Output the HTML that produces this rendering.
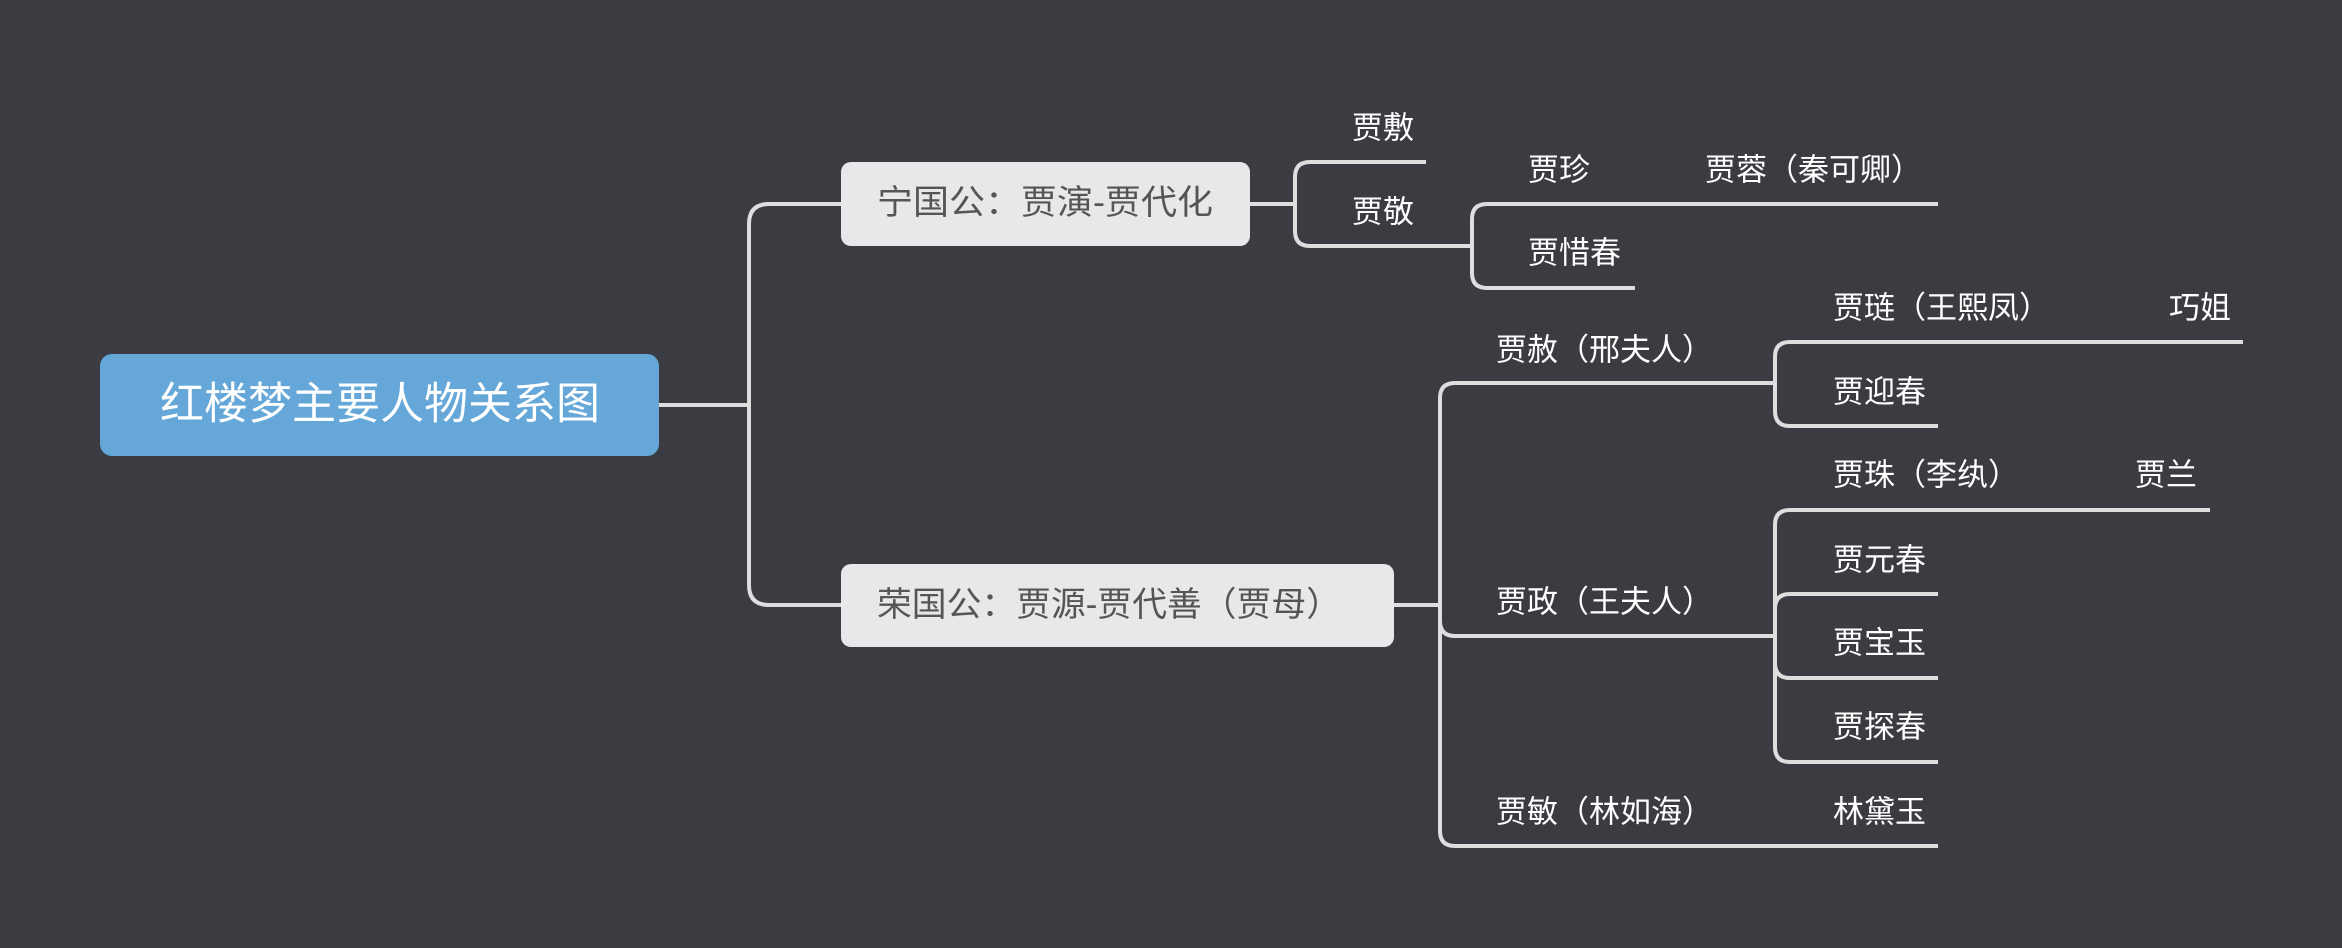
<!DOCTYPE html>
<html><head><meta charset="utf-8"><style>
html,body{margin:0;padding:0;background:#3b3c42;}
svg{display:block}
text{font-family:"Liberation Sans","Noto Sans CJK SC",sans-serif;dominant-baseline:central;}
</style></head><body>
<svg width="2342" height="948" viewBox="0 0 2342 948" xmlns="http://www.w3.org/2000/svg">
<rect width="2342" height="948" fill="#3b3c42"/>
<g fill="none" stroke="#dedede" stroke-width="4">
<path d="M659 405 H749 M749 405 V224 Q749 204 769 204 H841 M749 405 V585 Q749 605 769 605 H841"/>
<path d="M1250 204 H1295 M1295 204 V177 Q1295 162 1310 162 H1426 M1295 204 V231 Q1295 246 1310 246 H1472"/>
<path d="M1472 246 V219 Q1472 204 1487 204 H1938 M1472 246 V273 Q1472 288 1487 288 H1635"/>
<path d="M1394 605 H1440 M1440 605 V398 Q1440 383 1455 383 H1775 M1440 605 V831 Q1440 846 1455 846 H1938 M1440 605 V621 Q1440 636 1455 636 H1775"/>
<path d="M1775 383 V357 Q1775 342 1790 342 H2243 M1775 383 V411 Q1775 426 1790 426 H1938"/>
<path d="M1775 636 V525 Q1775 510 1790 510 H2210 M1775 636 V609 Q1775 594 1790 594 H1938 M1775 636 V663 Q1775 678 1790 678 H1938 M1775 636 V747 Q1775 762 1790 762 H1938"/>
</g>
<rect x="100" y="354" width="559" height="102" rx="12" fill="#64a7d8"/>
<text x="380" y="404" font-size="44" fill="#fff" text-anchor="middle">红楼梦主要人物关系图</text>
<rect x="841" y="162" width="409" height="84" rx="10" fill="#e8e8ea"/>
<text x="877" y="203" font-size="34" fill="#555" textLength="336" lengthAdjust="spacingAndGlyphs">宁国公：贾演-贾代化</text>
<rect x="841" y="564" width="553" height="83" rx="10" fill="#e8e8ea"/>
<text x="877" y="605" font-size="34" fill="#555" textLength="464" lengthAdjust="spacingAndGlyphs">荣国公：贾源-贾代善（贾母）</text>
<g font-size="31" fill="#fff">
<text x="1352" y="128">贾敷</text>
<text x="1352" y="212">贾敬</text>
<text x="1528" y="170">贾珍</text>
<text x="1705" y="170">贾蓉（秦可卿）</text>
<text x="1528" y="253">贾惜春</text>
<text x="1496" y="350">贾赦（邢夫人）</text>
<text x="1833" y="308">贾琏（王熙凤）</text>
<text x="2169" y="308">巧姐</text>
<text x="1833" y="392">贾迎春</text>
<text x="1496" y="602">贾政（王夫人）</text>
<text x="1833" y="475">贾珠（李纨）</text>
<text x="2135" y="475">贾兰</text>
<text x="1833" y="560">贾元春</text>
<text x="1833" y="643">贾宝玉</text>
<text x="1833" y="727">贾探春</text>
<text x="1496" y="812">贾敏（林如海）</text>
<text x="1833" y="812">林黛玉</text>
</g>
</svg>
</body></html>
